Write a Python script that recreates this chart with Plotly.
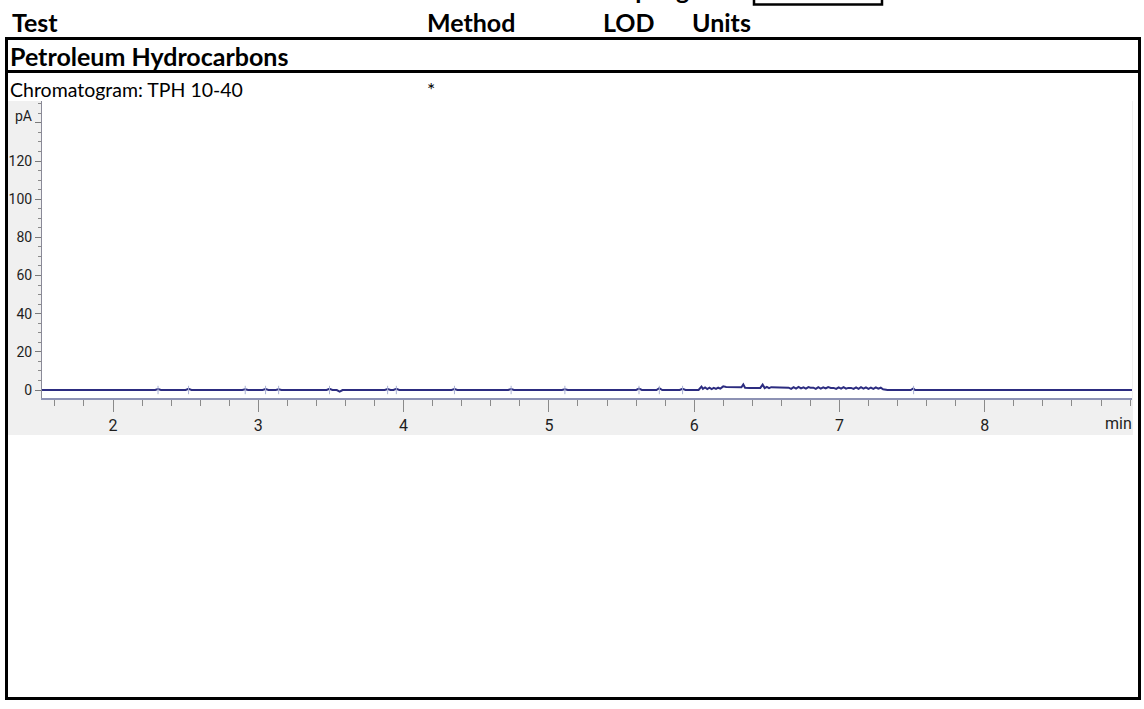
import plotly.graph_objects as go

# ---------------- data ----------------
header_labels = ["Test", "Method", "LOD", "Units"]
header_x_px = [12, 427, 603, 692]
section_title = "Petroleum Hydrocarbons"
row_label = "Chromatogram: TPH 10-40"
row_method = "*"
cut_header = "Sampling"

x_tick_vals = [2, 3, 4, 5, 6, 7, 8]
x_tick_text = ["2", "3", "4", "5", "6", "7", "8"]
y_tick_vals = [0, 20, 40, 60, 80, 100, 120, 140]
y_tick_text = ["0", "20", "40", "60", "80", "100", "120", ""]
x_unit = "min"
y_unit = "pA"

time_min = [
    1.51, 2.29, 2.31, 2.33, 2.50, 2.52, 2.54, 2.89, 2.91, 2.93, 3.03, 3.05, 3.07,
    3.12, 3.14, 3.16, 3.47, 3.49, 3.51, 3.54, 3.56, 3.58, 3.87, 3.89, 3.91, 3.93,
    3.95, 3.97, 4.33, 4.35, 4.37, 4.72, 4.74, 4.76, 5.09, 5.11, 5.13, 5.60, 5.62,
    5.64, 5.74, 5.76, 5.78, 5.90, 5.92, 5.94,
    6.03, 6.05, 6.06, 6.075, 6.09, 6.105, 6.12, 6.135, 6.15, 6.165, 6.18, 6.20,
    6.22, 6.26, 6.30, 6.325, 6.338, 6.35, 6.38, 6.42, 6.455, 6.471, 6.485, 6.50,
    6.515, 6.53, 6.55, 6.59, 6.62, 6.65, 6.667, 6.684, 6.701, 6.718, 6.735, 6.752,
    6.769, 6.786, 6.80, 6.82, 6.837, 6.854, 6.871, 6.888, 6.905, 6.922, 6.94,
    6.96, 6.977, 6.994, 7.011, 7.028, 7.045, 7.06, 7.08, 7.097, 7.114, 7.131,
    7.148, 7.165, 7.182, 7.199, 7.216, 7.233, 7.25, 7.267, 7.284, 7.30, 7.33,
    7.49, 7.508, 7.52, 9.02,
]
signal_pA = [
    0.0, 0.0, 0.5, 0.0, 0.0, 0.6, 0.0, 0.0, 0.4, 0.0, 0.0, 0.5, 0.0,
    0.0, 0.4, 0.0, 0.0, 0.6, 0.0, 0.0, -0.8, 0.0, 0.0, 0.5, 0.0, 0.0,
    0.6, 0.0, 0.0, 0.5, 0.0, 0.0, 0.5, 0.0, 0.0, 0.4, 0.0, 0.0, 0.7,
    0.0, 0.0, 1.0, 0.0, 0.0, 0.6, 0.0,
    0.0, 1.8, 0.6, 1.3, 0.5, 1.2, 0.5, 1.1, 0.6, 1.2, 0.7, 1.9,
    1.6, 1.5, 1.5, 1.4, 2.9, 1.2, 1.0, 1.0, 1.1, 2.8, 1.0, 1.6,
    1.0, 1.5, 1.4, 1.3, 1.2, 1.2, 0.6, 1.5, 0.7, 1.6, 0.8, 1.4,
    0.7, 1.5, 1.2, 1.2, 0.6, 1.5, 0.7, 1.4, 0.8, 1.5, 1.1,
    1.1, 0.6, 1.4, 0.7, 1.5, 0.7, 1.1, 1.1, 0.6, 1.4, 0.6,
    1.5, 0.7, 1.4, 0.6, 1.3, 0.6, 1.4, 0.7, 1.2, 0.4, 0.0,
    0.0, 0.8, 0.0, 0.0,
]
marker_times = [2.31, 2.52, 2.91, 3.05, 3.14, 3.49, 3.89, 3.95, 4.35, 4.74,
                5.11, 5.62, 5.76, 5.92, 7.51]
marker_vals = [0] * len(marker_times)

# ---------------- layout helpers ----------------
W, H = 1144, 709


def px(x):
    return x / W


def py(y):
    return 1 - y / H


fig = go.Figure()
fig.add_trace(go.Scatter(
    x=time_min, y=signal_pA, mode="lines",
    line=dict(color="#2c2c80", width=2), hoverinfo="skip", showlegend=False,
))
fig.add_trace(go.Scatter(
    x=marker_times, y=marker_vals, mode="markers",
    marker=dict(symbol="line-ns", size=6, line=dict(color="#a8b0d4", width=1)),
    hoverinfo="skip", showlegend=False,
))

# x range / y range from pixel calibration
x_left_px, x_right_px = 42, 1132
y_top_px, y_bot_px = 101, 398
x0_px, x_scale = 113, 145.3        # pixel of t=2, px per min
y0_px, y_scale = 390, 1.908        # pixel of 0 pA, px per pA
x_range = [2 + (x_left_px - x0_px) / x_scale, 2 + (x_right_px - x0_px) / x_scale]
y_range = [(y0_px - y_bot_px) / y_scale, (y0_px - y_top_px) / y_scale]

tick_family = "Roboto, Liberation Sans, sans-serif"

fig.update_xaxes(
    domain=[px(x_left_px), px(x_right_px)], range=x_range,
    tickvals=x_tick_vals, ticktext=x_tick_text,
    showgrid=False, zeroline=False, showline=True,
    linecolor="#8d92b4", linewidth=2,
    ticks="outside", ticklen=12, tickcolor="#8a8a8a", tickwidth=1,
    minor=dict(dtick=0.2, tick0=0, ticks="outside", ticklen=6, tickcolor="#8a8a8a", tickwidth=1),
    tickfont=dict(family=tick_family, size=16, color="#1e1e1e"), fixedrange=True,
)
fig.update_yaxes(
    domain=[py(y_bot_px), py(y_top_px)], range=y_range,
    tickvals=y_tick_vals, ticktext=y_tick_text,
    showgrid=False, zeroline=False, showline=True,
    linecolor="#8a8a98", linewidth=1,
    ticks="outside", ticklen=6, tickcolor="#7a7a7a", tickwidth=1,
    minor=dict(dtick=5, tick0=0, ticks="outside", ticklen=3, tickcolor="#8a8a8a", tickwidth=1),
    tickfont=dict(family=tick_family, size=14, color="#1e1e1e"), fixedrange=True,
)

shapes = [
    # chromatogram image grey background, then white plot area
    dict(type="rect", xref="paper", yref="paper", x0=px(8), x1=px(1133), y0=py(435), y1=py(101),
         fillcolor="#f0f0f0", line=dict(width=0), layer="below"),
    dict(type="rect", xref="paper", yref="paper", x0=px(x_left_px), x1=px(x_right_px),
         y0=py(y_bot_px), y1=py(y_top_px), fillcolor="white", line=dict(width=0), layer="below"),
]
border = dict(color="black", width=3)
for (a, b, c, d) in [(5, 38.5, 1141, 38.5), (5, 71.5, 1141, 71.5), (5, 698.5, 1141, 698.5),
                     (6.5, 37, 6.5, 700), (1139.5, 37, 1139.5, 700)]:
    shapes.append(dict(type="line", xref="paper", yref="paper", x0=px(a), y0=py(b),
                       x1=px(c), y1=py(d), line=border))
shapes.append(dict(type="rect", xref="paper", yref="paper", x0=px(754), x1=px(882),
                   y0=py(4.5), y1=py(-10), line=dict(color="black", width=2.5)))

bold_font = dict(family="Lato, Carlito, Calibri, sans-serif", size=25, color="black")
reg_font = dict(family="Lato, Carlito, Calibri, sans-serif", size=19.5, color="black")


def note(text, x, y, font, xanchor="left"):
    return dict(text=text, x=px(x), y=py(y), xref="paper", yref="paper",
                xanchor=xanchor, yanchor="middle", showarrow=False, font=font)


annotations = []
for label, xpos in zip(header_labels, header_x_px):
    annotations.append(note("<b>%s</b>" % label, xpos - 2, 22, bold_font))
annotations.append(note("<b>%s</b>" % cut_header, 586, -11, bold_font))
annotations.append(note("<b>%s</b>" % section_title, 8, 56, bold_font))
annotations.append(note(row_label, 8, 89, reg_font))
annotations.append(note(row_method, 425, 89, reg_font))
annotations.append(note(x_unit, 1134, 424, dict(family=tick_family, size=16, color="#1e1e1e"), "right"))
annotations.append(note(y_unit, 34, 116, dict(family=tick_family, size=14, color="#1e1e1e"), "right"))

fig.update_layout(
    width=W, height=H, autosize=False,
    margin=dict(l=0, r=0, t=0, b=0),
    paper_bgcolor="white", plot_bgcolor="white",
    shapes=shapes, annotations=annotations, showlegend=False,
)

fig.write_html("out.html", config={"displayModeBar": False},
               post_script="document.body.style.margin='0px';document.body.style.overflow='hidden';")
